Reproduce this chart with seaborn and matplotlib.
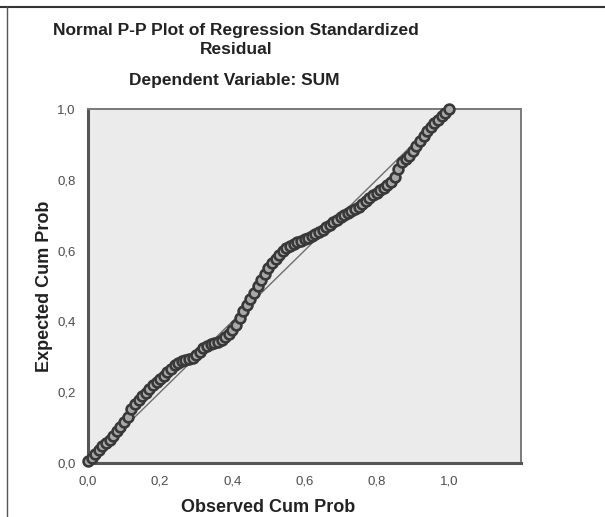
import matplotlib
matplotlib.use("Agg")
import matplotlib.pyplot as plt
from matplotlib.lines import Line2D
import seaborn as sns
import pandas as pd

# Observed cumulative probability (x) and expected cumulative probability (y)
observed_cum_prob = [
    0.00, 0.01, 0.02, 0.03, 0.04, 0.05, 0.06, 0.07, 0.08, 0.09,
    0.10, 0.11, 0.12, 0.13, 0.14, 0.15, 0.16, 0.17, 0.18, 0.19,
    0.20, 0.21, 0.22, 0.23, 0.24, 0.25, 0.26, 0.27, 0.28, 0.29,
    0.30, 0.31, 0.32, 0.33, 0.34, 0.35, 0.36, 0.37, 0.38, 0.39,
    0.40, 0.41, 0.42, 0.43, 0.44, 0.45, 0.46, 0.47, 0.48, 0.49,
    0.50, 0.51, 0.52, 0.53, 0.54, 0.55, 0.56, 0.57, 0.58, 0.59,
    0.60, 0.61, 0.62, 0.63, 0.64, 0.65, 0.66, 0.67, 0.68, 0.69,
    0.70, 0.71, 0.72, 0.73, 0.74, 0.75, 0.76, 0.77, 0.78, 0.79,
    0.80, 0.81, 0.82, 0.83, 0.84, 0.85, 0.86, 0.87, 0.88, 0.89,
    0.90, 0.91, 0.92, 0.93, 0.94, 0.95, 0.96, 0.97, 0.98, 0.99,
    1.00,
]
expected_cum_prob = [
    0.005, 0.015, 0.026, 0.036, 0.047, 0.057, 0.066, 0.077, 0.090, 0.103,
    0.117, 0.131, 0.152, 0.168, 0.177, 0.188, 0.199, 0.209, 0.219, 0.229,
    0.238, 0.247, 0.256, 0.266, 0.276, 0.283, 0.288, 0.292, 0.295, 0.298,
    0.305, 0.314, 0.324, 0.331, 0.335, 0.339, 0.343, 0.348, 0.355, 0.364,
    0.376, 0.391, 0.410, 0.428, 0.446, 0.464, 0.481, 0.499, 0.517, 0.535,
    0.551, 0.564, 0.576, 0.588, 0.598, 0.607, 0.614, 0.619, 0.624, 0.628,
    0.632, 0.637, 0.642, 0.647, 0.653, 0.659, 0.666, 0.673, 0.680, 0.687,
    0.694, 0.701, 0.707, 0.713, 0.718, 0.723, 0.731, 0.740, 0.749, 0.757,
    0.764, 0.771, 0.778, 0.786, 0.794, 0.808, 0.830, 0.849, 0.858, 0.868,
    0.880, 0.896, 0.911, 0.925, 0.938, 0.950, 0.960, 0.970, 0.980, 0.990,
    1.000,
]
diagonal_x = [0.0, 1.0]
diagonal_y = [0.0, 1.0]

x_ticks = [0.0, 0.2, 0.4, 0.6, 0.8, 1.0]
x_tick_labels = ["0,0", "0,2", "0,4", "0,6", "0,8", "1,0"]
y_ticks = [0.0, 0.2, 0.4, 0.6, 0.8, 1.0]
y_tick_labels = ["0,0", "0,2", "0,4", "0,6", "0,8", "1,0"]

title_line1 = "Normal P-P Plot of Regression Standardized"
title_line2 = "Residual"
subtitle = "Dependent Variable: SUM"
x_label = "Observed Cum Prob"
y_label = "Expected Cum Prob"

sns.set_style("white")
plt.rcParams["font.family"] = ["Liberation Sans", "DejaVu Sans"]

df = pd.DataFrame({"observed": observed_cum_prob, "expected": expected_cum_prob})

fig = plt.figure(figsize=(6.05, 5.17), dpi=100)
ax = fig.add_axes([88 / 605, 1 - 463 / 517, (521 - 88) / 605, (463 - 109) / 517])
ax.set_facecolor("#ebebeb")

sns.lineplot(x=diagonal_x, y=diagonal_y, ax=ax, color="#6e6e6e", linewidth=1.0, zorder=2)
sns.scatterplot(data=df, x="observed", y="expected", ax=ax, marker="o", s=50,
                facecolor="#a8a8a8", edgecolor="#383838", linewidth=1.9, zorder=3,
                clip_on=False)

ax.set_xlim(0, 1.2)
ax.set_ylim(0, 1.0)
ax.set_xticks(x_ticks)
ax.set_xticklabels(x_tick_labels)
ax.set_yticks(y_ticks)
ax.set_yticklabels(y_tick_labels)
ax.tick_params(axis="both", direction="out", length=7, width=1.5, color="#555555",
               labelsize=9.5, labelcolor="#4d4d4d", pad=2)
ax.set_xlabel("")
ax.set_ylabel("")

for side in ["left", "bottom"]:
    ax.spines[side].set_visible(True)
    ax.spines[side].set_color("#555555")
    ax.spines[side].set_linewidth(2.2)
for side in ["top", "right"]:
    ax.spines[side].set_visible(True)
    ax.spines[side].set_color("#7a7a7a")
    ax.spines[side].set_linewidth(1.4)

fig.text(236 / 605, 1 - 31 / 517, title_line1, ha="center", va="center",
         fontsize=12.5, fontweight="bold", color="#222222")
fig.text(236 / 605, 1 - 50 / 517, title_line2, ha="center", va="center",
         fontsize=12.5, fontweight="bold", color="#222222")
fig.text(234 / 605, 1 - 80 / 517, subtitle, ha="center", va="center",
         fontsize=12.5, fontweight="bold", color="#222222")
fig.text(268 / 605, 1 - 507 / 517, x_label, ha="center", va="center",
         fontsize=13, fontweight="bold", color="#222222")
fig.text(45 / 605, 1 - 286 / 517, y_label, ha="center", va="center", rotation=90,
         fontsize=13, fontweight="bold", color="#222222")

# outer frame lines (top and left) as in the reference screenshot
fig.add_artist(Line2D([0, 1], [1 - 7 / 517, 1 - 7 / 517], transform=fig.transFigure,
                      color="#333333", linewidth=1.5))
fig.add_artist(Line2D([7 / 605, 7 / 605], [0, 1 - 7 / 517], transform=fig.transFigure,
                      color="#555555", linewidth=1.0))

fig.savefig("out.png", dpi=100)
